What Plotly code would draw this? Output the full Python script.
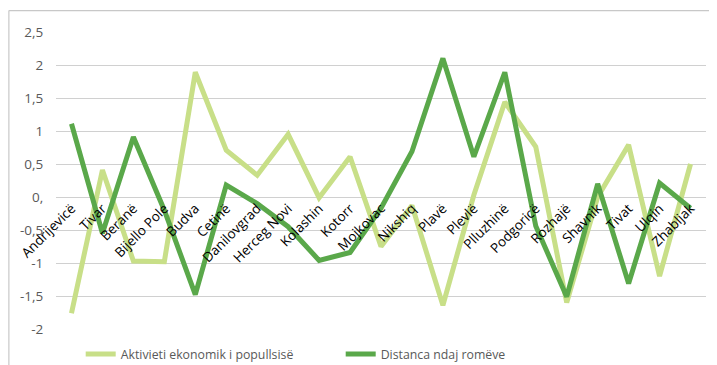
import plotly.graph_objects as go

# Komunat (categories)
komunat = ["Andrijevicë", "Tivar", "Beranë", "Bijello Pole", "Budva", "Cetinë",
           "Danilovgrad", "Herceg Novi", "Kolashin", "Kotorr", "Mojkovac", "Nikshiq",
           "Plavë", "Plevlë", "Plluzhinë", "Podgoricë", "Rozhajë", "Shavnik",
           "Tivat", "Ulqin", "Zhabljak"]

# Series values
aktiviteti = [-1.76, 0.41, -0.97, -0.98, 1.89, 0.71, 0.33, 0.95, -0.01, 0.61,
              -0.75, -0.13, -1.64, 0.03, 1.44, 0.76, -1.60, 0.0, 0.79, -1.20, 0.50]
distanca = [1.11, -0.55, 0.91, -0.20, -1.48, 0.18, -0.10, -0.45, -0.96, -0.84,
            -0.17, 0.69, 2.10, 0.61, 1.89, -0.44, -1.51, 0.20, -1.31, 0.21, -0.17]

y_ticks = [2.5, 2, 1.5, 1, 0.5, 0, -0.5, -1, -1.5, -2]
y_labels = ["2,5", "2", "1,5", "1", "0,5", "0,", "-0,5", "-1", "-1,5", "-2"]

fig = go.Figure()
fig.add_trace(go.Scatter(x=komunat, y=aktiviteti, mode="lines",
                         name="Aktivieti ekonomik i popullsisë",
                         line=dict(color="#c8df88", width=5)))
fig.add_trace(go.Scatter(x=komunat, y=distanca, mode="lines",
                         name="Distanca ndaj romëve",
                         line=dict(color="#5aa84a", width=5)))

# page body adds an 8px margin, so the figure is sized to fit the window
ymin, ymax = -2, 2.5
fig.update_layout(
    width=709, height=357,
    margin=dict(l=48, r=11, t=24, b=36, autoexpand=False),
    paper_bgcolor="white", plot_bgcolor="white",
    font=dict(family="Open Sans", size=12.5, color="#595959"),
    showlegend=True,
    legend=dict(orientation="h", x=0.038, xanchor="left", y=-0.084, yanchor="middle",
                font=dict(size=12.3, color="#595959"), entrywidth=215,
                bgcolor="rgba(0,0,0,0)"),
    xaxis=dict(anchor="free", position=(0 - ymin) / (ymax - ymin), automargin=False,
               tickangle=-45, showgrid=False, showline=False, ticks="",
               tickfont=dict(color="black", size=13.5), range=[-0.5, 20.5]),
    yaxis=dict(range=[ymin, ymax], tickvals=y_ticks, ticktext=y_labels, automargin=False,
               showgrid=True, gridcolor="#d0d0d0", gridwidth=1,
               zeroline=True, zerolinecolor="#d0d0d0", zerolinewidth=1,
               ticks="outside", ticklen=9, tickcolor="rgba(0,0,0,0)",
               tickfont=dict(size=13.5, color="#595959")),
    shapes=[
        dict(type="line", xref="paper", yref="paper", x0=-0.0725, x1=-0.0725,
             y0=1.072, y1=-0.2, line=dict(color="#c8c8c8", width=1.2), layer="above"),
        dict(type="line", xref="paper", yref="paper", x0=-0.0725, x1=1.03,
             y0=1.072, y1=1.072, line=dict(color="#c8c8c8", width=1.2), layer="above"),
    ],
)

fig.write_html("out.html")
